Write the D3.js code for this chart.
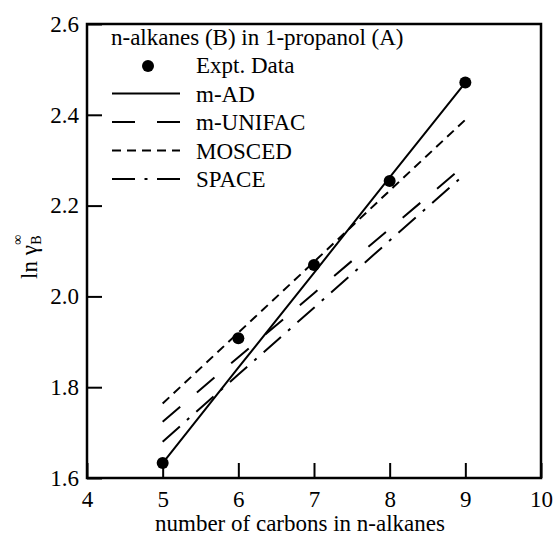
<!DOCTYPE html>
<html><head><meta charset="utf-8">
<script src="https://cdn.jsdelivr.net/npm/d3@7"></script>
<style>
body{margin:0;background:#fff}
</style>
</head><body>
<svg id="chart" width="553" height="537" font-family="'Liberation Serif', 'Times New Roman', Times, 'DejaVu Serif', serif"></svg>
<script>
// ---- data ----
const carbons = [5, 6, 7, 8, 9];
const exptData = [1.633, 1.908, 2.069, 2.254, 2.471];
const mAD      = [1.633, 1.843, 2.052, 2.262, 2.471];
const mUNIFAC  = [1.724, 1.866, 2.007, 2.149, 2.290];
const MOSCED   = [1.764, 1.920, 2.076, 2.233, 2.389];
const SPACE    = [1.680, 1.828, 1.975, 2.123, 2.270];
const xTicks = [4, 5, 6, 7, 8, 9, 10];
const yTicks = [1.6, 1.8, 2.0, 2.2, 2.4, 2.6];
const legendTitle = "n-alkanes (B) in 1-propanol (A)";
const seriesNames = ["Expt. Data", "m-AD", "m-UNIFAC", "MOSCED", "SPACE"];
const xLabel = "number of carbons in n-alkanes";

const FF = "'Liberation Serif', 'Times New Roman', Times, 'DejaVu Serif', serif";
const svg = d3.select("#chart");
const L = 87, R = 541, T = 24, B = 478;
const x = d3.scaleLinear().domain([4, 10]).range([L, R]);
const y = d3.scaleLinear().domain([1.6, 2.6]).range([B, T]);
const fs = 23;

// axes
const ax = svg.append("g").attr("transform", `translate(0,${B})`)
  .call(d3.axisBottom(x).tickValues(xTicks).tickFormat(d3.format("d")).tickSizeInner(-15).tickSizeOuter(0).tickPadding(13));
const ay = svg.append("g").attr("transform", `translate(${L},0)`)
  .call(d3.axisLeft(y).tickValues(yTicks).tickFormat(d3.format(".1f")).tickSizeInner(-15).tickSizeOuter(0).tickPadding(8));
[ax, ay].forEach(g => {
  g.attr("font-family", FF).attr("font-size", fs);
  g.select(".domain").remove();
  g.selectAll(".tick line").attr("stroke", "#000").attr("stroke-width", 2);
  g.selectAll(".tick text").attr("fill", "#000");
});

// frame
svg.append("rect").attr("x", L).attr("y", T).attr("width", R - L).attr("height", B - T)
  .attr("fill", "none").attr("stroke", "#000").attr("stroke-width", 2.5);

// lines
const series = [
  {vals: mAD, dash: null},
  {vals: mUNIFAC, dash: "23,22"},
  {vals: MOSCED, dash: "9,6"},
  {vals: SPACE, dash: "23,9.5,3,9.5"}
];
const line = d3.line().x(d => x(d[0])).y(d => y(d[1]));
series.forEach(s => {
  svg.append("path").datum(carbons.map((c, i) => [c, s.vals[i]]))
    .attr("d", line).attr("fill", "none").attr("stroke", "#000").attr("stroke-width", 2)
    .attr("stroke-dasharray", s.dash);
});

// points
svg.selectAll("circle.pt").data(carbons.map((c, i) => [c, exptData[i]])).enter()
  .append("circle").attr("class", "pt").attr("cx", d => x(d[0])).attr("cy", d => y(d[1])).attr("r", 6).attr("fill", "#000");

// legend
svg.append("text").attr("x", 111).attr("y", 45).attr("font-size", fs).text(legendTitle);
const rowY = [73, 101.5, 130, 158.5, 187];
seriesNames.forEach((n, i) => {
  svg.append("text").attr("x", 196).attr("y", rowY[i]).attr("font-size", fs).text(n);
});
svg.append("circle").attr("cx", 148).attr("cy", rowY[0] - 7).attr("r", 6).attr("fill", "#000");
series.forEach((s, i) => {
  const yy = rowY[i + 1] - 8;
  svg.append("line").attr("x1", 112).attr("x2", 180).attr("y1", yy).attr("y2", yy)
    .attr("stroke", "#000").attr("stroke-width", 2).attr("stroke-dasharray", s.dash);
});

// x label
svg.append("text").attr("x", 300).attr("y", 531).attr("text-anchor", "middle").attr("font-size", fs).text(xLabel);

// y label
const yl = svg.append("g").attr("transform", "translate(37,279) rotate(-90)");
const t1 = yl.append("text").attr("x", 0).attr("y", 0).attr("font-size", fs).text("ln \u03b3");
const w1 = t1.node().getComputedTextLength();
yl.append("text").attr("x", w1 + 0.5).attr("y", 4).attr("font-size", 14).text("B");
yl.append("text").attr("x", w1 + 0.5).attr("y", -15).attr("font-size", 14).text("\u221e");
</script>
</body></html>
